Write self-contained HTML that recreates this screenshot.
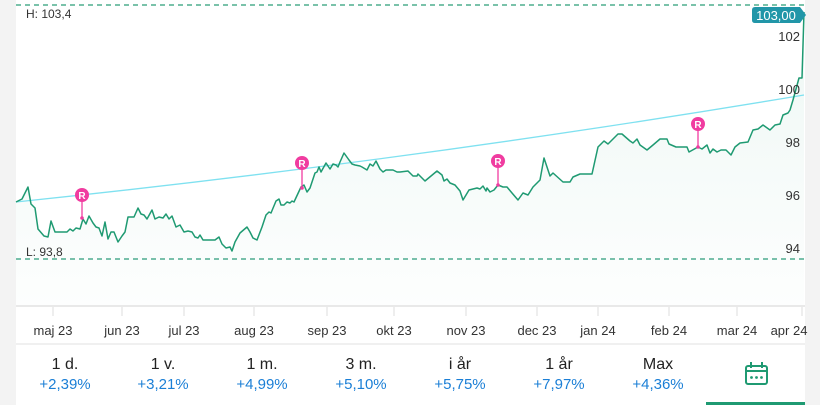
<!DOCTYPE html>
<html><head><meta charset="utf-8"><style>
html,body{margin:0;padding:0;background:#f3f3f3;}
body{width:820px;height:405px;position:relative;overflow:hidden;font-family:"Liberation Sans",sans-serif;}
#p{position:absolute;left:16px;top:0;width:789px;height:405px;background:#fff;}
.per{position:absolute;top:355px;width:90px;text-align:center;}
.per .a{font-size:16px;color:#222;line-height:20px;}
.per .b{font-size:15px;color:#1b7fd6;line-height:20px;}
</style></head><body>
<div id="p"></div>
<svg width="820" height="405" style="position:absolute;left:0;top:0" font-family="Liberation Sans, sans-serif">
<defs><linearGradient id="g" x1="0" y1="0" x2="0" y2="1"><stop offset="0" stop-color="#2aa07a" stop-opacity="0.08"/><stop offset="1" stop-color="#2aa07a" stop-opacity="0.01"/></linearGradient></defs>
<polygon fill="url(#g)" points="16,202 22,199 28,187 31,204 35,208 38,229 44,236 48,237 51,221 55,232 67,232 70,229 73,231 76,228 80,229 83,219 86,224 89,216 93,223 96,227 99,228 102,236 105,222 108,239 111,232 114,232 118,242 122,236 125,232 128,217 134,217 138,208 141,214 144,215 147,219 152,210 155,219 159,217 163,218 166,214 169,219 172,216 176,227 180,225 184,232 188,231 192,232 195,237 198,238 200,235 203,240 215,240 219,237 222,244 226,248 230,247 232,251 235,242 240,233 247,227 250,232 253,238 257,240 262,227 266,215 269,212 271,213 276,201 279,199 281,205 284,205 287,202 290,203 292,201 294,202 301,187 304,185 307,192 310,188 313,179 315,173 317,172 319,167 321,172 326,163 330,169 333,164 336,165 338,167 340,162 344,153 349,160 352,164 355,165 360,166 362,167 367,170 370,164 373,166 376,161 380,169 383,172 386,170 393,170 397,172 400,172 408,171 413,176 417,176 418,174 425,181 437,171 442,175 444,181 447,179 450,183 455,185 460,191 463,200 469,190 473,189 477,188 480,189 483,186 486,191 487,188 490,192 494,190 498,185 503,187 507,187 512,193 518,200 523,193 528,195 533,187 540,180 544,158 550,176 553,173 563,182 570,182 573,177 580,174 592,174 598,147 604,141 608,144 618,134 622,134 630,141 633,143 637,139 640,145 647,150 653,145 660,139 667,139 669,144 676,147 687,147 689,152 698,147 702,149 707,145 710,153 713,149 717,152 721,150 726,150 731,155 735,147 740,143 748,142 753,130 758,129 763,125 770,130 775,125 780,124 783,115 788,113 790,110 793,100 799,78 802,78 804,12 804,305 16,305"/>
<line x1="16" y1="5" x2="805" y2="5" stroke="#2a9d78" stroke-width="1.3" stroke-dasharray="5,4"/>
<line x1="16" y1="259" x2="805" y2="259" stroke="#2a9d78" stroke-width="1.3" stroke-dasharray="5,4"/>
<path d="M16,202 Q410,161 804,95" fill="none" stroke="#7fe1f0" stroke-width="1.3"/>
<polyline fill="none" stroke="#1f9a72" stroke-width="1.5" stroke-linejoin="round" points="16,202 22,199 28,187 31,204 35,208 38,229 44,236 48,237 51,221 55,232 67,232 70,229 73,231 76,228 80,229 83,219 86,224 89,216 93,223 96,227 99,228 102,236 105,222 108,239 111,232 114,232 118,242 122,236 125,232 128,217 134,217 138,208 141,214 144,215 147,219 152,210 155,219 159,217 163,218 166,214 169,219 172,216 176,227 180,225 184,232 188,231 192,232 195,237 198,238 200,235 203,240 215,240 219,237 222,244 226,248 230,247 232,251 235,242 240,233 247,227 250,232 253,238 257,240 262,227 266,215 269,212 271,213 276,201 279,199 281,205 284,205 287,202 290,203 292,201 294,202 301,187 304,185 307,192 310,188 313,179 315,173 317,172 319,167 321,172 326,163 330,169 333,164 336,165 338,167 340,162 344,153 349,160 352,164 355,165 360,166 362,167 367,170 370,164 373,166 376,161 380,169 383,172 386,170 393,170 397,172 400,172 408,171 413,176 417,176 418,174 425,181 437,171 442,175 444,181 447,179 450,183 455,185 460,191 463,200 469,190 473,189 477,188 480,189 483,186 486,191 487,188 490,192 494,190 498,185 503,187 507,187 512,193 518,200 523,193 528,195 533,187 540,180 544,158 550,176 553,173 563,182 570,182 573,177 580,174 592,174 598,147 604,141 608,144 618,134 622,134 630,141 633,143 637,139 640,145 647,150 653,145 660,139 667,139 669,144 676,147 687,147 689,152 698,147 702,149 707,145 710,153 713,149 717,152 721,150 726,150 731,155 735,147 740,143 748,142 753,130 758,129 763,125 770,130 775,125 780,124 783,115 788,113 790,110 793,100 799,78 802,78 804,12"/>
<g stroke="#f03ca0" stroke-width="1.3">
<line x1="82" y1="195" x2="82" y2="218"/><line x1="302" y1="163" x2="302" y2="188"/><line x1="498" y1="161" x2="498" y2="185"/><line x1="698" y1="124" x2="698" y2="147"/></g>
<g fill="#f03ca0"><circle cx="82" cy="195" r="7"/><circle cx="302" cy="163" r="7"/><circle cx="498" cy="161" r="7"/><circle cx="698" cy="124" r="7"/>
<circle cx="82" cy="218" r="1.8"/><circle cx="302" cy="188" r="1.8"/><circle cx="498" cy="185" r="1.8"/><circle cx="698" cy="147" r="1.8"/></g>
<g fill="#fff" font-size="10" font-weight="bold" text-anchor="middle"><text x="82" y="199">R</text><text x="302" y="167">R</text><text x="498" y="165">R</text><text x="698" y="128">R</text></g>
<text x="26" y="18" font-size="12" fill="#333">H: 103,4</text>
<text x="26" y="256" font-size="12" fill="#333">L: 93,8</text>
<g font-size="13" fill="#333" text-anchor="end"><text x="800" y="41">102</text><text x="800" y="94">100</text><text x="800" y="147">98</text><text x="800" y="200">96</text><text x="800" y="253">94</text></g>
<path d="M755,7 H800 L806,15 L800,23 H755 Q752,23 752,20 V10 Q752,7 755,7Z" fill="#2196a8"/>
<text x="776" y="20" font-size="13" fill="#fff" text-anchor="middle">103,00</text>
<line x1="16" y1="306" x2="805" y2="306" stroke="#e2e2e2" stroke-width="1.5"/>
<g stroke="#ddd" stroke-width="1"><line x1="53" y1="307" x2="53" y2="316"/><line x1="122" y1="307" x2="122" y2="316"/><line x1="184" y1="307" x2="184" y2="316"/><line x1="254" y1="307" x2="254" y2="316"/><line x1="327" y1="307" x2="327" y2="316"/><line x1="394" y1="307" x2="394" y2="316"/><line x1="466" y1="307" x2="466" y2="316"/><line x1="537" y1="307" x2="537" y2="316"/><line x1="598" y1="307" x2="598" y2="316"/><line x1="669" y1="307" x2="669" y2="316"/><line x1="737" y1="307" x2="737" y2="316"/><line x1="802" y1="307" x2="802" y2="316"/></g>
<g font-size="13" fill="#333" text-anchor="middle"><text x="53" y="335">maj 23</text><text x="122" y="335">jun 23</text><text x="184" y="335">jul 23</text><text x="254" y="335">aug 23</text><text x="327" y="335">sep 23</text><text x="394" y="335">okt 23</text><text x="466" y="335">nov 23</text><text x="537" y="335">dec 23</text><text x="598" y="335">jan 24</text><text x="669" y="335">feb 24</text><text x="737" y="335">mar 24</text><text x="789" y="335">apr 24</text></g>
<line x1="16" y1="344" x2="805" y2="344" stroke="#e6e6e6" stroke-width="1.2"/>
<g fill="none" stroke="#1f9a72" stroke-width="2"><rect x="746" y="366" width="21" height="18" rx="2"/><line x1="746" y1="371" x2="767" y2="371"/><line x1="751" y1="362" x2="751" y2="368"/><line x1="762" y1="362" x2="762" y2="368"/></g>
<g fill="#1f9a72"><circle cx="751.5" cy="377.5" r="1.4"/><circle cx="756.5" cy="377.5" r="1.4"/><circle cx="761.5" cy="377.5" r="1.4"/></g>
<rect x="706" y="402" width="99" height="3" fill="#1f9a72"/>
</svg>
<div class="per" style="left:20px"><div class="a">1 d.</div><div class="b">+2,39%</div></div>
<div class="per" style="left:118px"><div class="a">1 v.</div><div class="b">+3,21%</div></div>
<div class="per" style="left:217px"><div class="a">1 m.</div><div class="b">+4,99%</div></div>
<div class="per" style="left:316px"><div class="a">3 m.</div><div class="b">+5,10%</div></div>
<div class="per" style="left:415px"><div class="a">i år</div><div class="b">+5,75%</div></div>
<div class="per" style="left:514px"><div class="a">1 år</div><div class="b">+7,97%</div></div>
<div class="per" style="left:613px"><div class="a">Max</div><div class="b">+4,36%</div></div>
</body></html>
